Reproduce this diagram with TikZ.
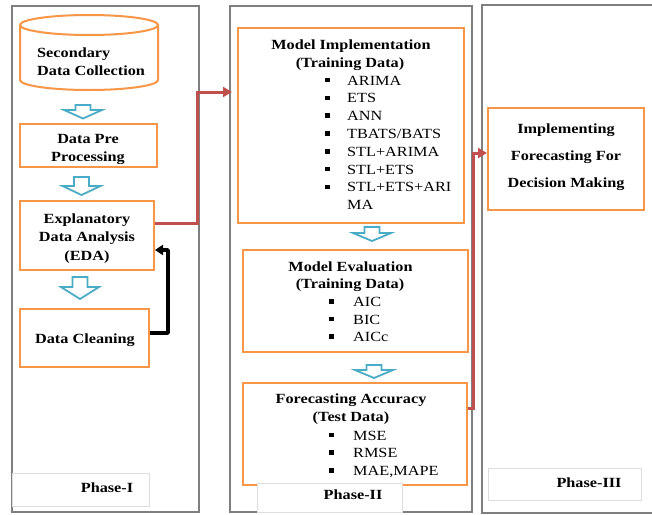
\documentclass[tikz,border=0pt]{standalone}
\usepackage{fontspec}
\setmainfont{Liberation Serif}[FakeStretch=1.16]
\usetikzlibrary{arrows.meta}
\definecolor{boxorange}{HTML}{F79646}
\definecolor{flowblue}{HTML}{4BACC6}
\definecolor{linkred}{HTML}{C0504D}
\definecolor{panelgray}{HTML}{7F7F7F}
\definecolor{tabgray}{HTML}{DDDDDD}
\newcommand\hollowdown[4]{% centre x, shaft top, head base, tip
  \draw[hollow] (#1-7.5,#2) -- (#1+7.5,#2) -- (#1+7.5,#3) -- (#1+19,#3) -- (#1,#4)
    -- (#1-19,#3) -- (#1-7.5,#3) -- cycle;}
\begin{document}
\begin{tikzpicture}[x=1pt,y=-1pt,
  stage/.style={draw=boxorange, line width=2pt, fill=white, inner sep=0pt},
  panel/.style={draw=panelgray, line width=2pt},
  tab/.style={draw=tabgray, line width=0.8pt, fill=white},
  title/.style={font=\fontsize{14}{16}\selectfont\bfseries, inner sep=0pt, anchor=base},
  item/.style={font=\fontsize{14}{16}\selectfont, inner sep=0pt, anchor=base west},
  bul/.style={fill=black, minimum size=4.6pt, inner sep=0pt},
  hollow/.style={draw=flowblue, line width=1.8pt, fill=white, line join=miter},
  redlink/.style={draw=linkred, line width=3pt, -{Triangle[length=9pt,width=10pt]}},
  blacklink/.style={draw=black, line width=3.5pt, line join=round, -{Triangle[length=8pt,width=10pt]}}]
\useasboundingbox (0,0) rectangle (652,514);
\fill[white] (0,0) rectangle (652,514);

% phase panels
\draw[panel] (12,6) rectangle (199,512);
\draw[panel] (230,6) rectangle (472,512);
\draw[panel] (652,5) -- (482,5) -- (482,513) -- (652,513);

% ---------- Phase I ----------
% cylinder for the data source
\draw[stage] (20,25) -- (20,80) .. controls (20,85.52) and (50.9,90) .. (89,90)
  .. controls (127.1,90) and (158,85.52) .. (158,80) -- (158,25);
\draw[stage] (89,25) ellipse [x radius=69pt, y radius=10pt];
\node[title, anchor=base west] (sdc1) at (37,57) {Secondary};
\node[title, anchor=base west] (sdc2) at (37,75) {Data Collection};

\node[stage, minimum width=137pt, minimum height=43pt] (dpp) at (88.5,145.5) {};
\node[title] (dpp1) at (88,143.5) {Data Pre};
\begin{scope}
  \clip (21,125) rectangle (156,163.5);
  \node[title] (dpp2) at (88,161.5) {Processing};
\end{scope}

\node[stage, minimum width=134pt, minimum height=69pt] (eda) at (87,235.5) {};
\node[title] (eda1) at (87,223) {Explanatory};
\node[title] (eda2) at (87,241.5) {Data Analysis};
\node[title] (eda3) at (87,260) {(EDA)};

\node[stage, minimum width=129pt, minimum height=58pt] (dc) at (84.5,338) {};
\node[title] (dc1) at (85,343) {Data Cleaning};

\hollowdown{83}{105}{110}{118.5}
\hollowdown{81.5}{177}{186}{195}
\hollowdown{80}{277}{287}{299}

\node[tab, minimum width=137pt, minimum height=33pt, anchor=north west] (tab1) at (12,473) {};
\node[title] (ph1) at (107,492.5) {Phase-I};

% ---------- Phase II ----------
\node[stage, minimum width=226pt, minimum height=195pt] (mi) at (351,125.5) {};
\node[title] (mi1) at (351,49) {Model Implementation};
\node[title] (mi2) at (350,67) {(Training Data)};
\foreach \t [count=\i] in {ARIMA,ETS,ANN,TBATS/BATS,STL+ARIMA,STL+ETS,STL+ETS+ARI}{
  \node[bul] (mib\i) at (327.5,{80+17.8*(\i-1)}) {};
  \node[item] (mit\i) at (347,{85+17.8*(\i-1)}) {\t};
}
\node[item] (mit8) at (347,209.6) {MA};

\node[stage, minimum width=225pt, minimum height=102pt] (me) at (355.5,301) {};
\node[title] (me1) at (350.5,271) {Model Evaluation};
\node[title] (me2) at (350,288.5) {(Training Data)};
\foreach \t [count=\i] in {AIC,BIC,AICc}{
  \node[bul] (meb\i) at (331.5,{301.5+17.6*(\i-1)}) {};
  \node[item] (met\i) at (353,{306.5+17.6*(\i-1)}) {\t};
}

\node[stage, minimum width=224pt, minimum height=102pt] (fa) at (355,434) {};
\node[title] (fa1) at (351,403) {Forecasting Accuracy};
\node[title] (fa2) at (351,421) {(Test Data)};
\foreach \t [count=\i] in {MSE,RMSE,{MAE,MAPE}}{
  \node[bul] (fab\i) at (331.5,{435+17.6*(\i-1)}) {};
  \node[item] (fat\i) at (353,{440+17.6*(\i-1)}) {\t};
}

\hollowdown{372}{227}{233}{241}
\hollowdown{374}{365}{370}{378}

\node[tab, minimum width=145pt, minimum height=29pt, anchor=north west] (tab2) at (257,483) {};
\node[title] (ph2) at (353,499) {Phase-II};

% ---------- Phase III ----------
\node[stage, minimum width=156pt, minimum height=102pt] (imp) at (566,159) {};
\node[title] (imp1) at (566,133) {Implementing};
\node[title] (imp2) at (566,160) {Forecasting For};
\node[title] (imp3) at (566,187) {Decision Making};

\node[tab, minimum width=153pt, minimum height=32pt, anchor=north west] (tab3) at (488,468) {};
\node[title] (ph3) at (589,487) {Phase-III};

% ---------- connectors ----------
\coordinate (bendA) at (197,92);
\draw[redlink] ([yshift=12.5pt]eda.east) -| (bendA) -- ([xshift=-5pt,yshift=33.5pt]mi.west);
\coordinate (bendB) at (473,153);
\draw[redlink] ([yshift=26pt]fa.east) -| (bendB) -- ([yshift=6pt]imp.west);
\coordinate (bendC) at (168,250);
\draw[blacklink] ([yshift=5pt]dc.east) -| (bendC) -- ([yshift=-14.5pt]eda.east);
\end{tikzpicture}
\end{document}
